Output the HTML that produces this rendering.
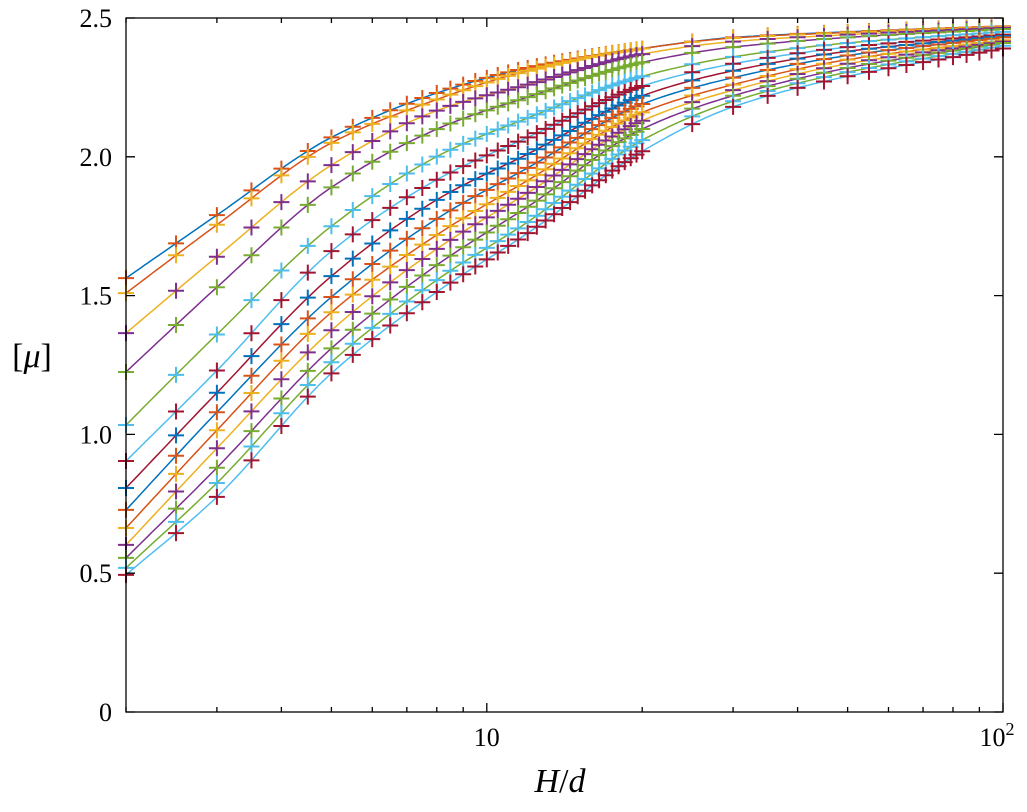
<!DOCTYPE html>
<html><head><meta charset="utf-8"><style>
body{margin:0;background:#fff}
svg text{font-family:"Liberation Serif",serif;fill:#000}
</style></head><body>
<svg id="chart" width="1027" height="807">
<g id="plot"></g>
</svg>
<script>
// data: line anchor x positions (H/d) and [mu] values per series
const anchorX = [2, 3, 5, 8.1, 12, 20, 30, 50, 100];
const series1 = [1.563, 1.79, 2.07, 2.233, 2.32, 2.39, 2.43, 2.45, 2.47];
const series2 = [1.509, 1.755, 2.05, 2.21, 2.31, 2.39, 2.428, 2.448, 2.468];
const series3 = [1.365, 1.64, 1.97, 2.17, 2.26, 2.37, 2.415, 2.44, 2.465];
const series4 = [1.225, 1.53, 1.89, 2.104, 2.215, 2.34, 2.395, 2.43, 2.46];
const series5 = [1.034, 1.36, 1.75, 2.006, 2.14, 2.29, 2.36, 2.41, 2.45];
const series6 = [0.904, 1.23, 1.66, 1.923, 2.07, 2.255, 2.335, 2.395, 2.44];
const series7 = [0.807, 1.15, 1.57, 1.851, 2.01, 2.22, 2.31, 2.38, 2.435];
const series8 = [0.728, 1.08, 1.495, 1.783, 1.96, 2.19, 2.285, 2.365, 2.43];
const series9 = [0.663, 1.015, 1.44, 1.725, 1.915, 2.16, 2.26, 2.35, 2.42];
const series10 = [0.602, 0.95, 1.375, 1.675, 1.87, 2.13, 2.24, 2.335, 2.415];
const series11 = [0.555, 0.88, 1.31, 1.617, 1.82, 2.10, 2.22, 2.32, 2.41];
const series12 = [0.519, 0.825, 1.26, 1.563, 1.765, 2.06, 2.20, 2.305, 2.40];
const series13 = [0.494, 0.775, 1.22, 1.52, 1.725, 2.02, 2.18, 2.29, 2.39];
const allSeries = [series1,series2,series3,series4,series5,series6,series7,series8,series9,series10,series11,series12,series13];
const yTicks = [0, 0.5, 1.0, 1.5, 2.0, 2.5];
const yTickLabels = ["0","0.5","1.0","1.5","2.0","2.5"];
const xMinor = [2,3,4,5,6,7,8,9,10,20,30,40,50,60,70,80,90,100];

const colors = ["#0072BD","#D95319","#EDB120","#7E2F8E","#77AC30","#4DBEEE","#A2142F"];
const L=126,R=1003,T=18,B=712;
const xMin=Math.log10(2), xMax=2;
function xs(v){return L+(Math.log10(v)-xMin)/(xMax-xMin)*(R-L);}
function ys(v){return B-v/2.5*(B-T);}
const markerX=[];
for(let v=2;v<=20.001;v+=0.5)markerX.push(v);
for(let v=25;v<=100;v+=5)markerX.push(v);

function spline(xArr,yArr){
  const n=xArr.length,x=xArr.map(Math.log10),d=[],m=[];
  for(let i=0;i<n-1;i++)d.push((yArr[i+1]-yArr[i])/(x[i+1]-x[i]));
  m[0]=d[0];m[n-1]=d[n-2];
  for(let i=1;i<n-1;i++)m[i]=d[i-1]*d[i]<=0?0:2/(1/d[i-1]+1/d[i]);
  return function(v){const t0=Math.log10(v);let i=0;while(i<n-2&&t0>x[i+1])i++;
    const h=x[i+1]-x[i],t=(t0-x[i])/h;const t2=t*t,t3=t2*t;
    return (2*t3-3*t2+1)*yArr[i]+(t3-2*t2+t)*h*m[i]+(-2*t3+3*t2)*yArr[i+1]+(t3-t2)*h*m[i+1];};
}
const NS="http://www.w3.org/2000/svg";
const svg=document.getElementById('chart'),plot=document.getElementById('plot');
function mk(tag,attrs,parent){const e=document.createElementNS(NS,tag);for(const k in attrs)e.setAttribute(k,attrs[k]);(parent||svg).appendChild(e);return e;}

allSeries.forEach((s,i)=>{
  const f=spline(anchorX,s);
  let d="";
  for(let k=0;k<=200;k++){const lv=xMin+(xMax-xMin)*k/200;const v=Math.pow(10,lv);d+=(k?"L":"M")+xs(v).toFixed(1)+","+ys(f(v)).toFixed(1);}
  const p=mk('path',{d:d,fill:'none',stroke:colors[i%7],'stroke-width':1.5},plot);
  
  
  const mc=colors[(i+1)%7];
  const g=mk('g',{stroke:mc,'stroke-width':2},plot);
  
  
  let md="";
  markerX.forEach(v=>{const cx=xs(v),cy=ys(f(v));md+=`M${cx-8},${cy}H${cx+8}M${cx},${cy-8}V${cy+8}`;});
  mk('path',{d:md},g);
});

const ax=mk('g',{stroke:'#000','stroke-width':1.3,fill:'none'});


mk('rect',{x:L,y:T,width:R-L,height:B-T},ax);
yTicks.forEach((v,i)=>{const y=ys(v);
  mk('path',{d:`M${L},${y}h9M${R},${y}h-9`},ax);
  const t=mk('text',{x:L-14,y:y+9,'text-anchor':'end','font-size':26});t.textContent=yTickLabels[i];
  
  
});
xMinor.forEach(v=>{const x=xs(v);const len=(v===10||v===100)?9:5;
  mk('path',{d:`M${x},${B}v-${len}M${x},${T}v${len}`},ax);});
let t=mk('text',{x:xs(10),y:746,'text-anchor':'middle','font-size':26});t.textContent="10";


t=mk('text',{x:xs(100)-6,y:746,'text-anchor':'middle','font-size':26});t.innerHTML='10<tspan dy="-11" font-size="18">2</tspan>';


t=mk('text',{x:560,y:792,'text-anchor':'middle','font-size':34});t.innerHTML='<tspan font-style="italic">H</tspan>/<tspan font-style="italic">d</tspan>';


t=mk('text',{x:32,y:367,'text-anchor':'middle','font-size':34});t.innerHTML='[<tspan font-style="italic">μ</tspan>]';


</script>
</body></html>
